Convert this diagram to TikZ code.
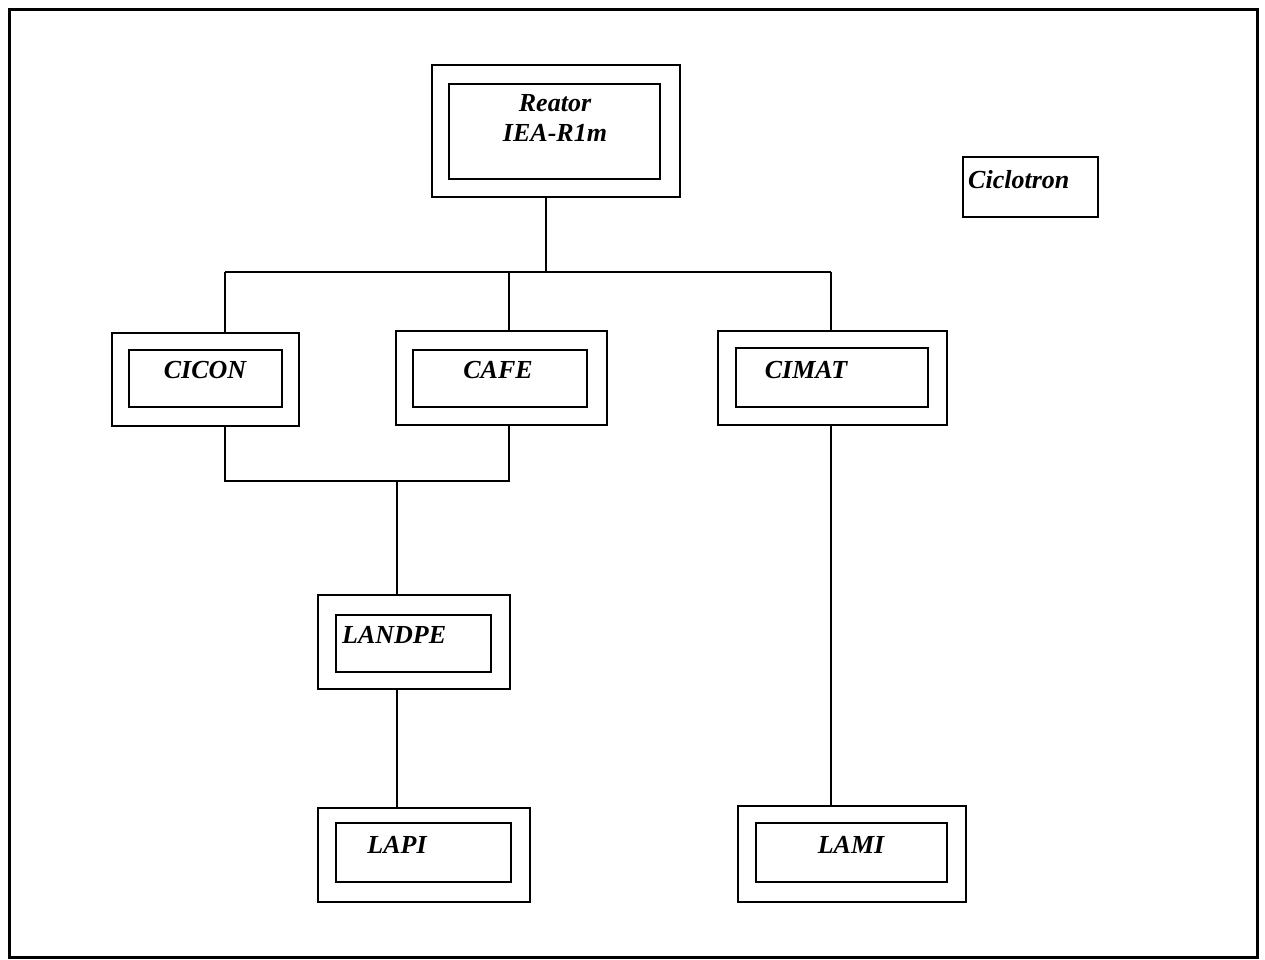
\documentclass[tikz,border=0pt]{standalone}
\usepackage{fontspec}
\setmainfont{Liberation Serif}
\begin{document}
\begin{tikzpicture}[x=1pt,y=-1pt,
  box/.style={draw=black, line width=1.8pt, rectangle, inner sep=0pt},
  lbl/.style={font=\fontsize{26}{30}\selectfont\bfseries\itshape, inner sep=0pt, align=center},
  wire/.style={draw=black, line width=1.3pt}]
\useasboundingbox (0,0) rectangle (1265,960);
\node[draw=black, line width=2.6pt, rectangle, minimum width=1248pt, minimum height=948pt, inner sep=0pt] (frame) at (633.5,483.5) {};
% Reator
\node[box, minimum width=248pt, minimum height=132pt] (reatorO) at (556,131) {};
\node[box, minimum width=211pt, minimum height=95pt] (reatorI) at (554.5,131.5) {};
\node[lbl] (reatorT) at (555,118) {Reator\\IEA-R1m};
% Ciclotron
\node[box, minimum width=135pt, minimum height=60pt] (cicloO) at (1030.5,187) {};
\node[lbl, anchor=west] (cicloT) at (968,180) {Ciclotron};
% CICON
\node[box, minimum width=187pt, minimum height=93pt] (ciconO) at (205.5,379.5) {};
\node[box, minimum width=153pt, minimum height=57pt] (ciconI) at (205.5,378.5) {};
\node[lbl] (ciconT) at (205,370) {CICON};
% CAFE
\node[box, minimum width=211pt, minimum height=94pt] (cafeO) at (501.5,378) {};
\node[box, minimum width=174pt, minimum height=57pt] (cafeI) at (500,378.5) {};
\node[lbl] (cafeT) at (498,370) {CAFE};
% CIMAT
\node[box, minimum width=229pt, minimum height=94pt] (cimatO) at (832.5,378) {};
\node[box, minimum width=192pt, minimum height=59pt] (cimatI) at (832,377.5) {};
\node[lbl] (cimatT) at (806,370) {CIMAT};
% LANDPE
\node[box, minimum width=192pt, minimum height=94pt] (landpeO) at (414,642) {};
\node[box, minimum width=155pt, minimum height=57pt] (landpeI) at (413.5,643.5) {};
\node[lbl, anchor=west] (landpeT) at (342,635) {LANDPE};
% LAPI
\node[box, minimum width=212pt, minimum height=94pt] (lapiO) at (424,855) {};
\node[box, minimum width=175pt, minimum height=59pt] (lapiI) at (423.5,852.5) {};
\node[lbl] (lapiT) at (397,845) {LAPI};
% LAMI
\node[box, minimum width=228pt, minimum height=96pt] (lamiO) at (852,854) {};
\node[box, minimum width=191pt, minimum height=59pt] (lamiI) at (851.5,852.5) {};
\node[lbl] (lamiT) at (851,845) {LAMI};
% connectors
\coordinate (busR) at (546,272);
\coordinate (busL) at (225,272);
\coordinate (busM) at (509,272);
\coordinate (busE) at (831,272);
\coordinate (lowL) at (225,481);
\coordinate (lowM) at (509,481);
\coordinate (lowC) at (397,481);
\draw[wire] (reatorO.south -| busR) -- (busR);
\draw[wire] (busL) -- (busE);
\draw[wire] (busL) -- (busL |- ciconO.north);
\draw[wire] (busM) -- (busM |- cafeO.north);
\draw[wire] (busE) -- (busE |- cimatO.north);
\draw[wire] (lowL |- ciconO.south) -- (lowL) -- (lowM) -- (lowM |- cafeO.south);
\draw[wire] (lowC) -- (lowC |- landpeO.north);
\draw[wire] (lowC |- landpeO.south) -- (lowC |- lapiO.north);
\draw[wire] (busE |- cimatO.south) -- (busE |- lamiO.north);
\end{tikzpicture}
\end{document}
